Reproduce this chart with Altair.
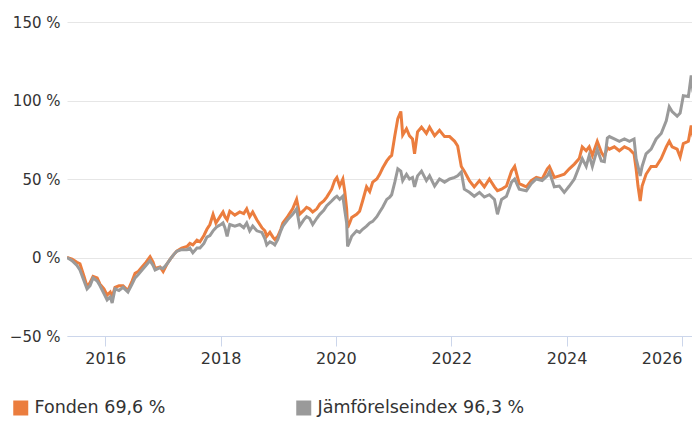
import altair as alt
import pandas as pd

dates = [
    "2015-05-04", "2015-06-05", "2015-07-06", "2015-07-25", "2015-08-20", "2015-09-08",
    "2015-09-27", "2015-10-16", "2015-11-11", "2015-11-29", "2015-12-24", "2016-01-13",
    "2016-02-02", "2016-02-14", "2016-03-03", "2016-03-28", "2016-04-23", "2016-05-24",
    "2016-06-19", "2016-07-08", "2016-07-27", "2016-08-21", "2016-09-16", "2016-10-11",
    "2016-10-30", "2016-11-12", "2016-12-13", "2017-01-02", "2017-01-27", "2017-02-16",
    "2017-03-11", "2017-03-29", "2017-04-29", "2017-06-02", "2017-06-20", "2017-07-09",
    "2017-08-04", "2017-08-23", "2017-09-17", "2017-10-06", "2017-10-25", "2017-11-14",
    "2017-12-02", "2017-12-15", "2018-01-03", "2018-01-16", "2018-01-28", "2018-02-11",
    "2018-02-28", "2018-04-01", "2018-05-02", "2018-05-27", "2018-06-15", "2018-07-04",
    "2018-07-23", "2018-08-18", "2018-09-19", "2018-10-08", "2018-10-20", "2018-11-09",
    "2018-11-28", "2018-12-10", "2018-12-29", "2019-01-17", "2019-01-30", "2019-03-01",
    "2019-04-02", "2019-04-27", "2019-05-16", "2019-06-11", "2019-06-29", "2019-07-18",
    "2019-08-07", "2019-09-02", "2019-09-21", "2019-10-16", "2019-11-04", "2019-12-05",
    "2019-12-24", "2020-01-07", "2020-01-25", "2020-02-14", "2020-02-26", "2020-03-09",
    "2020-03-15", "2020-03-28", "2020-04-10", "2020-05-11", "2020-05-30", "2020-06-18",
    "2020-07-13", "2020-08-02", "2020-08-21", "2020-09-16", "2020-10-04", "2020-10-23",
    "2020-11-18", "2020-12-07", "2020-12-19", "2021-01-08", "2021-01-27", "2021-02-15",
    "2021-02-27", "2021-03-23", "2021-04-11", "2021-04-30", "2021-05-13", "2021-06-01",
    "2021-06-26", "2021-07-27", "2021-08-16", "2021-09-17", "2021-10-18", "2021-11-19",
    "2021-12-21", "2022-01-22", "2022-02-10", "2022-03-05", "2022-03-24", "2022-04-25",
    "2022-05-26", "2022-06-28", "2022-07-29", "2022-08-30", "2022-10-01", "2022-10-20",
    "2022-11-15", "2022-12-16", "2023-01-17", "2023-02-06", "2023-03-07", "2023-04-21",
    "2023-05-22", "2023-06-23", "2023-07-30", "2023-09-01", "2023-09-14", "2023-10-15",
    "2023-11-16", "2023-12-17", "2024-01-18", "2024-02-19", "2024-03-21", "2024-04-09",
    "2024-05-04", "2024-05-23", "2024-06-12", "2024-07-13", "2024-08-08", "2024-08-27",
    "2024-09-15", "2024-09-28", "2024-10-29", "2024-11-30", "2025-01-01", "2025-02-02",
    "2025-03-03", "2025-03-16", "2025-03-28", "2025-04-11", "2025-04-23", "2025-05-18",
    "2025-06-19", "2025-07-21", "2025-08-22", "2025-09-23", "2025-10-12", "2025-10-30",
    "2025-12-01", "2025-12-20", "2026-01-09", "2026-02-10", "2026-02-28", "2026-03-11",
    "2026-04-06",
]

fonden = [
    0, -1, -3, -4, -12, -18.5,
    -16, -12, -13, -17, -20, -24,
    -22, -25, -19, -18, -18, -21,
    -15, -10, -9, -6, -3, 0.5,
    -3, -7, -6, -9, -4, -1,
    2, 4, 6, 7, 9, 8,
    11, 10, 14, 18, 21, 27.5,
    22, 24, 27, 29, 26, 24,
    29.5, 27, 29, 28, 31, 26,
    29, 24, 19, 17, 13.5, 16,
    13, 11.5, 13.5, 18, 22, 26,
    31, 37, 27.5, 30, 32, 31,
    29, 31, 34, 36, 38.5, 43.5,
    49, 51, 45.5, 50, 42, 31,
    19, 22, 25.5, 27.5, 29.5, 36,
    45, 42, 48, 50, 53, 57,
    61.5, 64, 65, 77.5, 88.5, 93,
    78, 82, 77.5, 75.5, 66, 80,
    83, 79, 83, 77.5, 81, 77,
    77, 74, 71, 58, 55, 49,
    45, 49, 45, 50, 45, 42.5,
    43.5, 45.5, 55, 58, 47, 45,
    49, 51, 50, 56.5, 58, 51,
    52, 53, 56.5, 59.5, 63, 70.5,
    68, 70.5, 65, 74, 67, 64,
    70, 69, 70.5, 68, 70.5, 69,
    66, 56.5, 45.5, 36, 45.5, 53,
    58, 58, 63, 70.5, 74, 70.5,
    69, 64, 72.5, 74, 84, 77.5,
    69.6,
]

jamforelse = [
    0, -2, -5, -8, -15, -20,
    -18, -13, -15, -18, -23, -27,
    -25, -29, -20, -21, -19, -22,
    -17, -13, -11, -8, -5, -2,
    -5, -8, -6.5, -7, -4, -1,
    2, 4, 5, 5, 6, 3,
    6, 6, 9, 13, 14, 17,
    19, 20, 21, 22, 19, 13.5,
    21, 20, 21, 19, 22, 17,
    20, 17, 16, 12, 8, 10,
    9, 8, 11.5, 17, 20, 24,
    27.5, 31, 20, 24, 26, 25,
    21, 25, 27.5, 30, 33, 36,
    38, 39, 37, 39, 30, 22,
    7, 10, 13.5, 17, 16, 18,
    20, 22, 23, 26, 29, 32,
    37, 38.5, 40, 48, 56.5, 55,
    49, 53, 50, 51, 45, 52,
    55, 49, 52, 45.5, 50, 48,
    50, 51, 52, 54.5, 43.5, 41.5,
    39, 41.5, 38.5, 40, 37, 27.5,
    37, 39, 48, 50, 43.5, 42.5,
    47, 50, 49, 52, 54.5, 45,
    45.5, 41.5, 45.5, 50, 58, 63,
    58, 65, 58, 69, 61.5, 61,
    76, 77, 75.5, 74, 75.5, 74,
    75.5, 63, 58, 52, 58, 66,
    69, 75.5, 79, 87, 96, 93,
    90, 92, 103, 102.5, 116, 106,
    96.3,
]

series_names = ["Fonden 69,6 %", "Jämförelseindex 96,3 %"]
series_colors = ["#eb7d3e", "#9a9a9a"]
y_ticks = [-50, 0, 50, 100, 150]
x_tick_years = [2016, 2018, 2020, 2022, 2024, 2026]

n = len(dates)
df = pd.DataFrame({
    "date": dates + dates,
    "value": fonden + jamforelse,
    "series": [series_names[0]] * n + [series_names[1]] * n,
})

FONT = "DejaVu Sans"

chart = (
    alt.Chart(df)
    .mark_line(strokeWidth=3, interpolate="linear", clip=True)
    .encode(
        x=alt.X(
            "date:T",
            scale=alt.Scale(domain=[alt.DateTime(year=2015, month=5, date=4),
                                    alt.DateTime(year=2026, month=3, date=5)]),
            axis=alt.Axis(
                title=None,
                values=[alt.DateTime(year=y, month=1, date=1) for y in x_tick_years],
                format="%Y",
                grid=False,
                domainColor="#ccd6eb",
                tickColor="#ccd6eb",
                tickSize=10,
                labelFontSize=16,
                labelColor="#333333",
                labelPadding=4,
                labelFont=FONT,
                labelFlush=12,
                labelOverlap=False,
            ),
        ),
        y=alt.Y(
            "value:Q",
            scale=alt.Scale(domain=[-50, 150], nice=False, zero=False),
            axis=alt.Axis(
                title=None,
                values=y_ticks,
                labelExpr="(datum.value < 0 ? '\u2212' + abs(datum.value) : datum.value) + ' %'",
                domain=False,
                ticks=False,
                gridColor="#e6e6e6",
                labelPadding=7,
                labelFontSize=15,
                labelColor="#333333",
                labelFont=FONT,
            ),
        ),
        color=alt.Color(
            "series:N",
            scale=alt.Scale(domain=series_names, range=series_colors),
            legend=alt.Legend(
                title=None,
                orient="none",
                legendX=-55,
                legendY=377,
                direction="horizontal",
                symbolType="square",
                symbolSize=56.25,
                symbolStrokeWidth=7.5,
                symbolOpacity=1,
                labelFontSize=17.5,
                labelFont=FONT,
                labelColor="#333333",
                labelOffset=5,
                labelLimit=400,
                columnPadding=119,
                padding=0,
            ),
        ),
    )
    .properties(
        width=625,
        height=314,
        autosize=alt.AutoSizeParams(type="none"),
        padding={"left": 59, "top": 14, "right": 0, "bottom": 85},
    )
    .configure_view(stroke=None)
)

chart.save("out.html", embed_options={"renderer": "svg", "actions": False})
